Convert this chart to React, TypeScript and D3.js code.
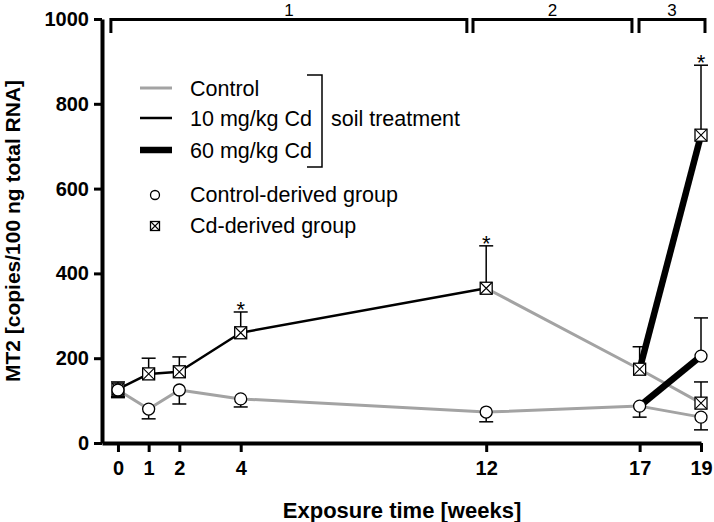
import React, { useEffect, useRef } from 'react';
import * as d3 from 'd3';

// exposure weeks (x ticks)
const weeks = [0, 1, 2, 4, 12, 17, 19];
const yTicks = [0, 200, 400, 600, 800, 1000];

// control-derived group (circles)
const controlDerivedMean = [125, 80, 125, 104, 73, 87, 61];
const controlDerivedErr = [18, 23, 33, 19, 23, 26, 30];

// Cd-derived group (squares)
const cdDerivedMean = [127, 163, 168, 260, 365, 174, 94];
const cdDerivedErr = [17, 37, 35, 49, 100, 53, 50];

// 60 mg/kg Cd soil, weeks 17-19
const cd60Weeks = [17, 19];
const cd60CdDerivedMean = [174, 726];
const cd60CdDerivedErr = [53, 165];
const cd60ControlDerivedMean = [87, 205];
const cd60ControlDerivedErr = [26, 90];

// weeks with a significant difference (asterisk)
const sigWeeksCd = [4, 12];
const sigWeeksCd60 = [19];

const periods = [
  { label: '1', from: -0.23, to: 11.37 },
  { label: '2', from: 11.57, to: 16.75 },
  { label: '3', from: 16.98, to: 19.13 },
];

const FONT = '"Liberation Sans", Arial, Helvetica, sans-serif';
const GREY = '#a3a3a3';

type Pt = { w: number; v: number; e: number };

const App: React.FC = () => {
  const svgRef = useRef<SVGSVGElement>(null);

  useEffect(() => {
    const width = 714;
    const height = 522;
    const svg = d3.select(svgRef.current)
      .attr('width', width)
      .attr('height', height)
      .attr('viewBox', [0, 0, width, height].join(' '));

    svg.selectAll('*').remove();

    const x = d3.scaleLinear().domain([-0.52, 19]).range([102, 701]);
    const y = d3.scaleLinear().domain([0, 1000]).range([443, 19]);

    const ctrl: Pt[] = weeks.map((w, i) => ({ w, v: controlDerivedMean[i], e: controlDerivedErr[i] }));
    const cd: Pt[] = weeks.map((w, i) => ({ w, v: cdDerivedMean[i], e: cdDerivedErr[i] }));
    const cd60Sq: Pt[] = cd60Weeks.map((w, i) => ({ w, v: cd60CdDerivedMean[i], e: cd60CdDerivedErr[i] }));
    const cd60Ci: Pt[] = cd60Weeks.map((w, i) => ({ w, v: cd60ControlDerivedMean[i], e: cd60ControlDerivedErr[i] }));

    const line = d3.line<Pt>().x(d => x(d.w)).y(d => y(d.v));

    // axes
    const axisx = svg.append('g')
      .attr('transform', `translate(0,${y(0)})`)
      .call(d3.axisBottom(x).tickValues(weeks).tickSize(9).tickSizeOuter(0).tickPadding(9).tickFormat(d3.format('d')));
    axisx.select('path').attr('stroke', 'black').attr('stroke-width', 4);
    axisx.selectAll('line').attr('stroke', 'black').attr('stroke-width', 3);
    axisx.selectAll('text').attr('font-family', FONT).attr('font-size', 20).attr('font-weight', 'bold').attr('fill', 'black');

    const axisy = svg.append('g')
      .attr('transform', `translate(${x(-0.52)},0)`)
      .call(d3.axisLeft(y).tickValues(yTicks).tickSize(8).tickSizeOuter(0).tickPadding(5).tickFormat(d3.format('d')));
    axisy.select('path').attr('stroke', 'black').attr('stroke-width', 4);
    axisy.selectAll('line').attr('stroke', 'black').attr('stroke-width', 3);
    axisy.selectAll('text').attr('font-family', FONT).attr('font-size', 20).attr('font-weight', 'bold').attr('fill', 'black');

    svg.append('text')
      .attr('x', 402).attr('y', 518)
      .attr('text-anchor', 'middle')
      .attr('font-family', FONT).attr('font-size', 22).attr('font-weight', 'bold')
      .text('Exposure time [weeks]');

    svg.append('text')
      .attr('transform', `translate(20,${(y(0) + y(1000)) / 2}) rotate(-90)`)
      .attr('text-anchor', 'middle')
      .attr('font-family', FONT).attr('font-size', 21).attr('font-weight', 'bold')
      .text('MT2 [copies/100 ng total RNA]');

    // period brackets
    periods.forEach(p => {
      const x0 = x(p.from);
      const x1 = x(p.to);
      svg.append('path')
        .attr('d', `M${x0},33V19.5H${x1}V33`)
        .attr('fill', 'none').attr('stroke', 'black').attr('stroke-width', 3);
      svg.append('text')
        .attr('x', (x0 + x1) / 2).attr('y', 16)
        .attr('text-anchor', 'middle')
        .attr('font-family', FONT).attr('font-size', 17)
        .text(p.label);
    });

    // error bars
    const errBar = (d: Pt, dir: number) => {
      const yEnd = y(d.v + dir * d.e);
      const g = svg.append('g').attr('stroke', 'black').attr('stroke-width', 1.5);
      g.append('line').attr('x1', x(d.w)).attr('x2', x(d.w)).attr('y1', y(d.v)).attr('y2', yEnd);
      g.append('line').attr('x1', x(d.w) - 7).attr('x2', x(d.w) + 7).attr('y1', yEnd).attr('y2', yEnd);
    };

    errBar(cd[0], -1);
    cd.forEach(d => errBar(d, 1));
    ctrl.forEach(d => errBar(d, -1));
    errBar(cd60Sq[1], 1);
    errBar(cd60Ci[1], 1);

    // lines: control soil (grey), 10 mg/kg (thin black), 60 mg/kg (thick black)
    const drawLine = (pts: Pt[], color: string, w: number) => {
      svg.append('path').attr('d', line(pts)!).attr('fill', 'none')
        .attr('stroke', color).attr('stroke-width', w).attr('stroke-linejoin', 'round');
    };
    drawLine(ctrl, GREY, 3);
    drawLine(cd.slice(4), GREY, 3);
    drawLine(cd.slice(0, 5), 'black', 2.5);
    drawLine(cd60Sq, 'black', 6.5);
    drawLine(cd60Ci, 'black', 6.5);

    // markers
    const square = (cx: number, cy: number, s: number) => {
      const h = s / 2;
      svg.append('rect').attr('x', cx - h).attr('y', cy - h).attr('width', s).attr('height', s)
        .attr('fill', 'white').attr('stroke', 'black').attr('stroke-width', 1.3);
      svg.append('path')
        .attr('d', `M${cx - h},${cy - h}L${cx + h},${cy + h}M${cx + h},${cy - h}L${cx - h},${cy + h}`)
        .attr('stroke', 'black').attr('stroke-width', 1.1);
    };
    const circle = (cx: number, cy: number, r: number) => {
      svg.append('circle').attr('cx', cx).attr('cy', cy).attr('r', r)
        .attr('fill', 'white').attr('stroke', 'black').attr('stroke-width', 1.3);
    };

    [...cd, cd60Sq[1]].forEach(d => square(x(d.w), y(d.v), 12));
    [...ctrl, cd60Ci[1]].forEach(d => circle(x(d.w), y(d.v), 6));

    // asterisks
    const star = (d: Pt) => {
      svg.append('text')
        .attr('x', x(d.w)).attr('y', y(d.v + d.e) + 5)
        .attr('text-anchor', 'middle')
        .attr('font-family', FONT).attr('font-size', 22)
        .text('*');
    };
    cd.filter(d => sigWeeksCd.includes(d.w)).forEach(star);
    cd60Sq.filter(d => sigWeeksCd60.includes(d.w)).forEach(star);

    // legend
    const lg = svg.append('g').attr('font-family', FONT).attr('font-size', 21.5);
    const lineItems = [
      { label: 'Control', color: GREY, w: 3, y: 88 },
      { label: '10 mg/kg Cd', color: 'black', w: 2.5, y: 118 },
      { label: '60 mg/kg Cd', color: 'black', w: 6.5, y: 150 },
    ];
    lineItems.forEach(it => {
      lg.append('line').attr('x1', 140).attr('x2', 172).attr('y1', it.y).attr('y2', it.y)
        .attr('stroke', it.color).attr('stroke-width', it.w);
      lg.append('text').attr('x', 190).attr('y', it.y + 7.5).text(it.label);
    });
    lg.append('path').attr('d', 'M307,75H322V167H307')
      .attr('fill', 'none').attr('stroke', 'black').attr('stroke-width', 1.5);
    lg.append('text').attr('x', 331).attr('y', 125.5).text('soil treatment');

    circle(155, 195, 4.5);
    lg.append('text').attr('x', 190).attr('y', 202).text('Control-derived group');
    square(155, 226, 9);
    lg.append('text').attr('x', 190).attr('y', 233).text('Cd-derived group');
  }, []);

  return (
    <svg ref={svgRef} style={{ position: 'absolute', left: 0, top: 0, background: 'white' }}></svg>
  );
};

export default App;
